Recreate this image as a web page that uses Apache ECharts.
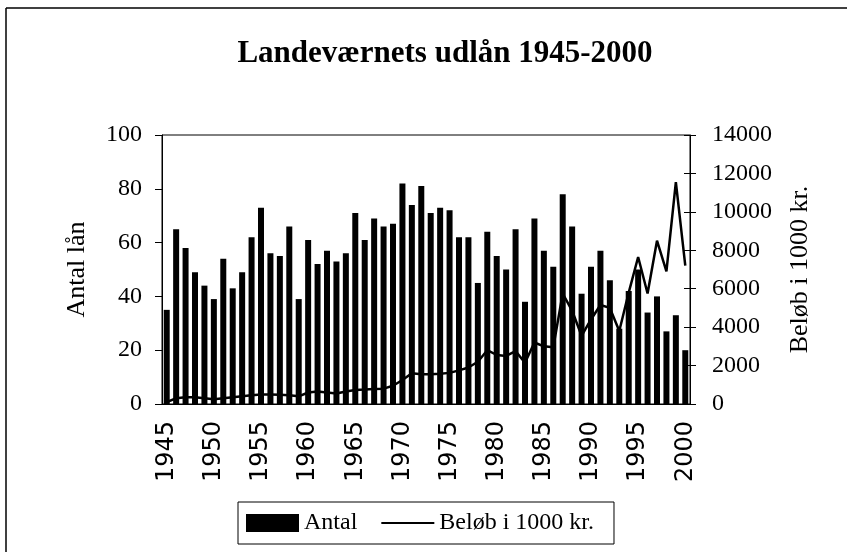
<!DOCTYPE html>
<html>
<head>
<meta charset="utf-8">
<script src="https://cdn.jsdelivr.net/npm/echarts@6/dist/echarts.min.js"></script>
<style>
  html, body { margin: 0; padding: 0; background: #fff; }
  #chart { width: 847px; height: 552px; }
</style>
</head>
<body>
<div id="chart"></div>
<script>
  // år 1945-2000
  const years = []
  for (let y = 1945; y <= 2000; y++) years.push(String(y))

  // Antal lån (venstre akse)
  const antal = [
    35, 65, 58, 49, 44, 39, 54, 43, 49, 62,
    73, 56, 55, 66, 39, 61, 52, 57, 53, 56,
    71, 61, 69, 66, 67, 82, 74, 81, 71, 73,
    72, 62, 62, 45, 64, 55, 50, 65, 38, 69,
    57, 51, 78, 66, 41, 51, 57, 46, 28, 42,
    50, 34, 40, 27, 33, 20
  ]

  // Beløb i 1000 kr. (højre akse)
  const beloeb = [
    100, 300, 350, 350, 300, 250, 300, 350, 400, 450,
    500, 500, 480, 450, 400, 600, 650, 600, 550, 650,
    730, 750, 780, 800, 950, 1250, 1600, 1550, 1550, 1580,
    1620, 1750, 1900, 2200, 2800, 2550, 2500, 2750, 2150, 3200,
    3000, 2950, 5750, 4850, 3550, 4400, 5150, 5000, 3800, 5800,
    7650, 5750, 8500, 6900, 11550, 7200
  ]

  const serif = 'Liberation Serif'
  // tynd vandret streg midt i en 53x18 boks
  const lineIcon = 'path://M0,0M53,18M0,8L53,8L53,10L0,10Z'

  const chart = echarts.init(document.getElementById('chart'), null, {renderer: 'canvas'})

  chart.setOption({
    animation: false,
    backgroundColor: '#fff',
    title: {
      text: 'Landeværnets udlån 1945-2000',
      left: 440,
      top: 33,
      textAlign: 'center',
      textStyle: {fontFamily: serif, fontWeight: 'bold', fontSize: 31, color: '#000'}
    },
    legend: {
      left: 238,
      top: 502,
      itemWidth: 53,
      itemHeight: 18,
      itemGap: 24,
      padding: [9, 20, 9, 8],
      borderColor: '#000',
      borderWidth: 1,
      textStyle: {fontFamily: serif, fontSize: 24, color: '#000'},
      data: [
        {name: 'Antal', icon: 'rect'},
        {name: 'Beløb i 1000 kr.', icon: lineIcon}
      ]
    },
    grid: {
      left: 162,
      right: 157,
      top: 135,
      bottom: 148,
      show: true,
      borderColor: '#000',
      borderWidth: 1
    },
    graphic: [
      {type: 'line', shape: {x1: 6, y1: 8, x2: 847, y2: 8}, style: {stroke: '#000', lineWidth: 1.5}},
      {type: 'line', shape: {x1: 6, y1: 8, x2: 6, y2: 552}, style: {stroke: '#000', lineWidth: 1.5}}
    ],
    xAxis: {
      type: 'category',
      data: years,
      boundaryGap: true,
      axisLine: {lineStyle: {color: '#000', width: 1}},
      axisTick: {interval: 4, length: 8, lineStyle: {color: '#000'}},
      axisLabel: {
        interval: 4,
        rotate: 90,
        margin: 17,
        fontFamily: 'DejaVu Sans',
        fontSize: 24,
        color: '#000'
      }
    },
    yAxis: [
      {
        type: 'value',
        min: 0,
        max: 100,
        interval: 20,
        position: 'left',
        name: 'Antal lån',
        nameLocation: 'middle',
        nameRotate: 90,
        nameGap: 72,
        nameTextStyle: {fontFamily: serif, fontSize: 26, color: '#000'},
        splitLine: {show: false},
        axisLine: {show: true, lineStyle: {color: '#000'}},
        axisTick: {show: true, length: 7, lineStyle: {color: '#000'}},
        axisLabel: {margin: 20, fontFamily: serif, fontSize: 24, color: '#000'}
      },
      {
        type: 'value',
        min: 0,
        max: 14000,
        interval: 2000,
        position: 'right',
        name: 'Beløb i 1000 kr.',
        nameLocation: 'middle',
        nameRotate: 90,
        nameGap: 97,
        nameTextStyle: {fontFamily: serif, fontSize: 26, color: '#000'},
        splitLine: {show: false},
        axisLine: {show: true, lineStyle: {color: '#000'}},
        axisTick: {show: true, length: 6, lineStyle: {color: '#000'}},
        axisLabel: {
          margin: 22,
          fontFamily: serif,
          fontSize: 24,
          color: '#000',
          formatter: v => String(v)
        }
      },
      {
        // indvendige tick-streger på højre akse
        type: 'value',
        min: 0,
        max: 14000,
        interval: 2000,
        position: 'right',
        splitLine: {show: false},
        axisLine: {show: false},
        axisLabel: {show: false},
        axisTick: {show: true, inside: true, length: 6, lineStyle: {color: '#000'}}
      }
    ],
    series: [
      {
        name: 'Antal',
        type: 'bar',
        yAxisIndex: 0,
        data: antal,
        barWidth: 6,
        itemStyle: {color: '#000'}
      },
      {
        name: 'Beløb i 1000 kr.',
        type: 'line',
        yAxisIndex: 1,
        data: beloeb,
        symbol: 'none',
        z: 5,
        lineStyle: {color: '#000', width: 2.5},
        itemStyle: {color: '#000'}
      }
    ]
  })
</script>
</body>
</html>
